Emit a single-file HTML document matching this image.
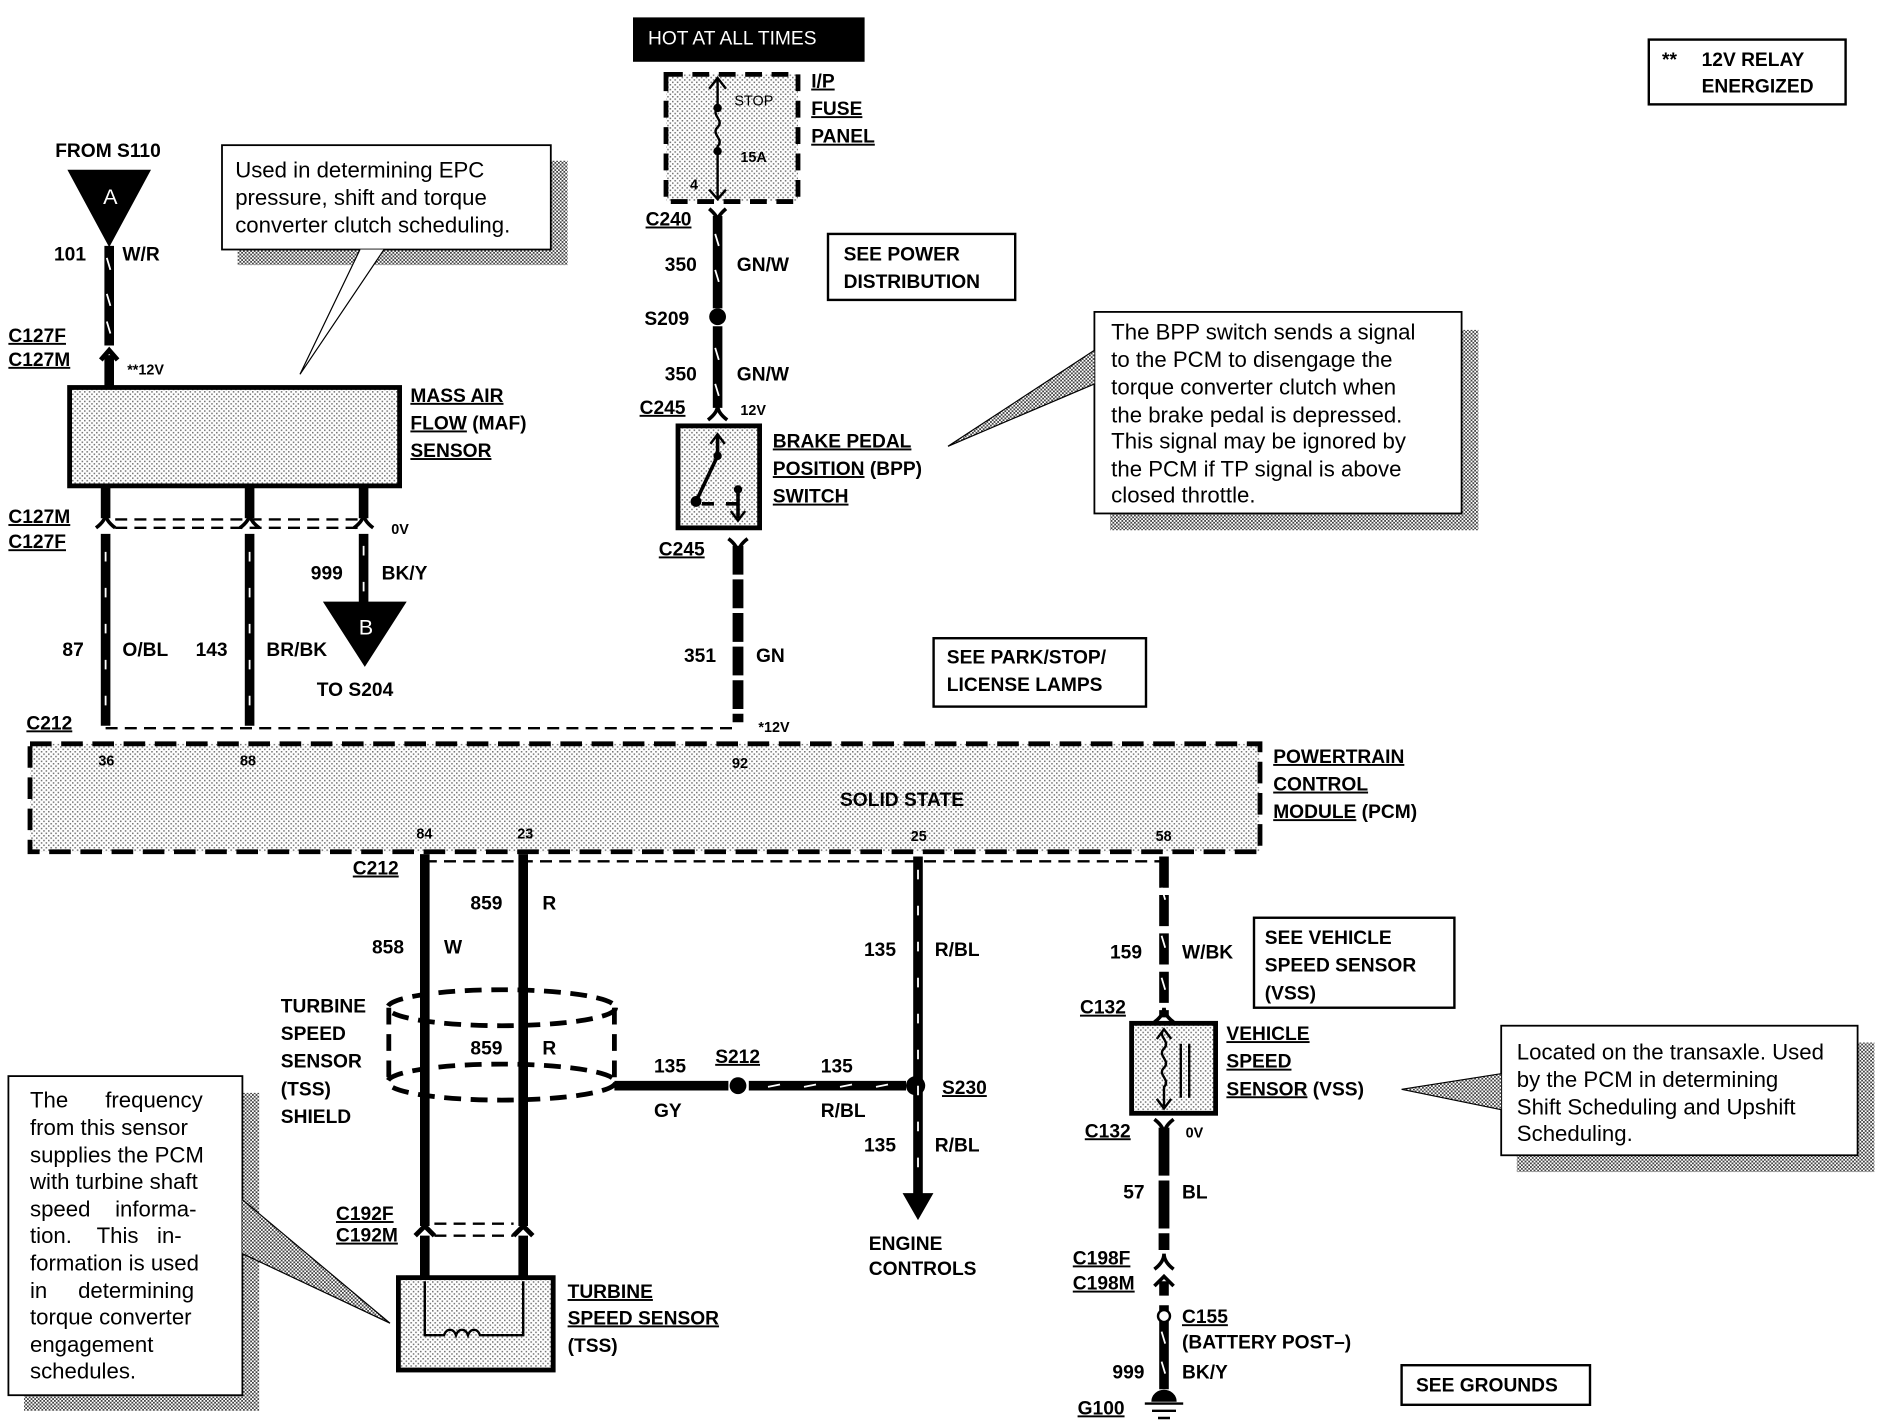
<!DOCTYPE html>
<html><head><meta charset="utf-8"><style>
html,body{margin:0;padding:0;background:#fff}
svg{display:block}
text{font-family:"Liberation Sans",Arial,sans-serif;font-weight:bold;font-size:16px;fill:#000}
.n{font-weight:normal;font-size:18.5px}
.s{font-size:12px}
.u{text-decoration:underline}
</style></head><body>
<svg width="1878" height="1424" viewBox="0 0 1565 1187" preserveAspectRatio="none" xmlns="http://www.w3.org/2000/svg">
<defs>
<pattern id="d" width="4" height="4" patternUnits="userSpaceOnUse"><rect width="4" height="4" fill="#fff"/><rect width="1.3" height="1.3" fill="#777"/><rect x="2" y="2" width="1.3" height="1.3" fill="#777"/></pattern>
<pattern id="h" width="3" height="3" patternUnits="userSpaceOnUse"><rect width="3" height="3" fill="#fff"/><rect width="1.5" height="1.5" fill="#444"/><rect x="1.5" y="1.5" width="1.5" height="1.5" fill="#444"/></pattern>
</defs>
<g stroke="#000" fill="none">
<rect x="528" y="15" width="192" height="36" fill="#000"/>
<rect x="555" y="62" width="110" height="106" fill="url(#d)" stroke-width="4" stroke-dasharray="14 8"/>
<path d="M598 66 V90 c-6 6 6 10 0 16 c-6 6 6 10 0 16 V165" stroke-width="2"/>
<path d="M591 74 L598 65 L605 74 M591 158 L598 166 L605 158" stroke-width="2"/>
<circle cx="598" cy="90" r="3" fill="#000"/><circle cx="598" cy="126" r="3" fill="#000"/>
<path d="M591 174 Q598 180 598 184 Q598 180 605 174" stroke-width="3"/>
<line x1="598" y1="180" x2="598" y2="257" stroke-width="8"/>
<line x1="598" y1="272" x2="598" y2="340" stroke-width="8"/>
<path d="M596 195 l3 10 M596 225 l3 10 M596 290 l3 10 M596 320 l3 10" stroke="#fff" stroke-width="1.5"/>
<circle cx="598" cy="264" r="7" fill="#000" stroke="none"/>
<path d="M590 350 Q598 344 598 338 Q598 344 606 350" stroke-width="3"/>
<rect x="565" y="355" width="68" height="85" fill="url(#d)" stroke-width="4"/>
<path d="M598 362 V380 L580 418 M585 420 H595 M605 420 h10 M615 405 V432" stroke-width="3"/>
<path d="M592 370 L598 362 L604 370 M609 426 L615 434 L621 426" stroke-width="2"/>
<circle cx="598" cy="380" r="3" fill="#000"/><circle cx="580" cy="418" r="4" fill="#000"/><circle cx="615" cy="408" r="3" fill="#000"/>
<path d="M607 449 Q615 455 615 462 Q615 455 623 449" stroke-width="3"/>
<line x1="615" y1="455" x2="615" y2="602" stroke-width="9" stroke-dasharray="24 4"/>
<rect x="690" y="195" width="156" height="55" stroke-width="2"/>
<rect x="778" y="532" width="177" height="57" stroke-width="2"/>
<rect x="1374" y="33" width="164" height="54" stroke-width="2"/>
<rect x="1045" y="765" width="167" height="75" stroke-width="2"/>
<rect x="1168" y="1138" width="157" height="33" stroke-width="2"/>
<rect x="198" y="134" width="275" height="87" fill="url(#h)" stroke="none"/>
<rect x="185" y="121" width="274" height="87" fill="#fff" stroke-width="1.5"/>
<path d="M300 208 L250 312 L320 208" fill="#fff" stroke-width="1"/>
<rect x="925" y="275" width="307" height="167" fill="url(#h)" stroke="none"/>
<rect x="912" y="260" width="306" height="168" fill="#fff" stroke-width="1.5"/>
<path d="M912 292 L790 372 L912 320" fill="url(#h)" stroke-width="1"/>
<rect x="20" y="911" width="196" height="265" fill="url(#h)" stroke="none"/>
<rect x="7" y="897" width="195" height="266" fill="#fff" stroke-width="1.5"/>
<path d="M202 1000 L325 1103 L202 1045" fill="url(#h)" stroke-width="1"/>
<rect x="1264" y="869" width="298" height="108" fill="url(#h)" stroke="none"/>
<rect x="1251" y="855" width="297" height="108" fill="#fff" stroke-width="1.5"/>
<path d="M1251 895 L1168 908 L1251 925" fill="url(#h)" stroke-width="1"/>
<polygon points="57,142 125,142 91,205" fill="#000"/>
<line x1="91" y1="205" x2="91" y2="288" stroke-width="8"/>
<path d="M89 215 l3 10 M89 245 l3 10 M89 268 l3 10" stroke="#fff" stroke-width="1.5"/>
<path d="M84 300 L91 292 L98 300" stroke-width="4"/>
<line x1="91" y1="296" x2="91" y2="323" stroke-width="8"/>
<rect x="58" y="323" width="275" height="82" fill="url(#d)" stroke-width="4"/>
<g stroke-width="8">
<line x1="88" y1="405" x2="88" y2="432"/><line x1="208" y1="405" x2="208" y2="432"/><line x1="303" y1="405" x2="303" y2="432"/>
<line x1="88" y1="445" x2="88" y2="605"/><line x1="208" y1="445" x2="208" y2="605"/><line x1="303" y1="445" x2="303" y2="505"/>
</g>
<path d="M88 460 v150 M208 460 v150 M303 455 v45" stroke="#fff" stroke-width="1.5" stroke-dasharray="8 22"/>
<path d="M80 440 Q88 434 88 428 Q88 434 96 440 M200 440 Q208 434 208 428 Q208 434 216 440 M295 440 Q303 434 303 428 Q303 434 311 440" stroke-width="3"/>
<line x1="96" y1="433" x2="300" y2="433" stroke-width="2" stroke-dasharray="10 6"/>
<line x1="96" y1="440" x2="300" y2="440" stroke-width="2" stroke-dasharray="10 6"/>
<polygon points="270,502 338,502 304,555" fill="#000"/>
<line x1="88" y1="607" x2="615" y2="607" stroke-width="2" stroke-dasharray="10 6"/>
<rect x="25" y="620" width="1025" height="90" fill="url(#d)" stroke-width="4" stroke-dasharray="18 8"/>
<line x1="354" y1="712" x2="354" y2="1022" stroke-width="8"/>
<line x1="436" y1="712" x2="436" y2="1022" stroke-width="8"/>
<line x1="354" y1="1030" x2="354" y2="1068" stroke-width="8"/>
<line x1="436" y1="1030" x2="436" y2="1068" stroke-width="8"/>
<path d="M346 1030 L354 1022 L362 1030 M428 1030 L436 1022 L444 1030" stroke-width="4"/>
<line x1="362" y1="1020" x2="428" y2="1020" stroke-width="2" stroke-dasharray="10 6"/>
<line x1="362" y1="1030" x2="428" y2="1030" stroke-width="2" stroke-dasharray="10 6"/>
<line x1="354" y1="718" x2="970" y2="718" stroke-width="2" stroke-dasharray="10 6"/>
<ellipse cx="418" cy="840" rx="95" ry="15" stroke-width="4" stroke-dasharray="14 8"/>
<ellipse cx="418" cy="902" rx="95" ry="15" stroke-width="4" stroke-dasharray="14 8"/>
<line x1="324" y1="840" x2="324" y2="902" stroke-width="4" stroke-dasharray="14 8"/>
<line x1="512" y1="840" x2="512" y2="905" stroke-width="4" stroke-dasharray="14 8"/>
<line x1="512" y1="905" x2="607" y2="905" stroke-width="8"/>
<circle cx="615" cy="905" r="7" fill="#000" stroke="none"/>
<line x1="624" y1="905" x2="755" y2="905" stroke-width="8"/>
<path d="M640 906 l10 -2 M670 906 l10 -2 M700 906 l10 -2 M730 906 l10 -2" stroke="#fff" stroke-width="1.5"/>
<circle cx="763" cy="905" r="8" fill="#000" stroke="none"/>
<line x1="765" y1="714" x2="765" y2="995" stroke-width="8"/>
<path d="M765 725 v270" stroke="#fff" stroke-width="1.5" stroke-dasharray="8 22"/>
<polygon points="753,995 777,995 765,1016" fill="#000"/>
<rect x="332" y="1065" width="129" height="77" fill="url(#d)" stroke-width="4"/>
<path d="M354 1068 V1113 H370 c2 -6 8 -6 10 0 c2 -6 8 -6 10 0 c2 -6 8 -6 10 0 H436 V1068" stroke-width="2"/>
<line x1="970" y1="714" x2="970" y2="848" stroke-width="8" stroke-dasharray="26 6"/>
<path d="M968 740 l3 10 M968 780 l3 10 M968 815 l3 10" stroke="#fff" stroke-width="1.5"/>
<path d="M962 852 Q970 846 970 840 Q970 846 978 852" stroke-width="3"/>
<rect x="943" y="853" width="70" height="75" fill="url(#d)" stroke-width="4"/>
<path d="M970 858 c-6 6 6 10 0 16 c-6 6 6 10 0 16 c-6 6 6 10 0 16 V922 M964 866 L970 858 L976 866 M964 916 L970 924 L976 916 M984 870 V915 M991 870 V915" stroke-width="2"/>
<path d="M962 933 Q970 939 970 946 Q970 939 978 933" stroke-width="3"/>
<line x1="970" y1="940" x2="970" y2="1042" stroke-width="9" stroke-dasharray="40 4"/>
<path d="M962 1058 Q970 1052 970 1045 Q970 1052 978 1058 M962 1072 L970 1064 L978 1072" stroke-width="3"/>
<line x1="970" y1="1068" x2="970" y2="1080" stroke-width="8"/>
<line x1="970" y1="1088" x2="970" y2="1158" stroke-width="8"/>
<circle cx="970" cy="1097" r="5" fill="#fff" stroke-width="2"/>
<path d="M968 1110 l3 10 M968 1135 l3 10" stroke="#fff" stroke-width="1.5"/>
<path d="M960 1168 a10 9 0 0 1 20 0 Z" fill="#000"/>
<path d="M954 1170 H986 M960 1176 H980 M965 1182 H975" stroke-width="2"/>
</g>
<text x="540" y="37" style="fill:#fff;font-weight:normal;font-size:16px">HOT AT ALL TIMES</text>
<text x="612" y="88" class="s" style="font-weight:normal">STOP</text>
<text x="617" y="135" class="s">15A</text>
<text x="575" y="158" class="s">4</text>
<text x="676" y="73" class="u">I/P</text><text x="676" y="96" class="u">FUSE</text><text x="676" y="119" class="u">PANEL</text>
<text x="538" y="188" class="u">C240</text>
<text x="554" y="226">350</text><text x="614" y="226">GN/W</text>
<text x="537" y="271">S209</text>
<text x="554" y="317">350</text><text x="614" y="317">GN/W</text>
<text x="533" y="345" class="u">C245</text><text x="617" y="346" class="s">12V</text>
<text x="644" y="373" class="u">BRAKE PEDAL</text>
<text x="644" y="396"><tspan class="u">POSITION</tspan> (BPP)</text>
<text x="644" y="419" class="u">SWITCH</text>
<text x="549" y="463" class="u">C245</text>
<text x="570" y="552">351</text><text x="630" y="552">GN</text>
<text x="632" y="610" class="s">*12V</text>
<text x="703" y="217">SEE POWER</text><text x="703" y="240">DISTRIBUTION</text>
<text x="789" y="553">SEE PARK/STOP/</text><text x="789" y="576">LICENSE LAMPS</text>
<text x="1385" y="55">**</text><text x="1418" y="55">12V RELAY</text><text x="1418" y="77">ENERGIZED</text>
<text class="n" x="926" y="283">The BPP switch sends a signal</text>
<text class="n" x="926" y="306">to the PCM to disengage the</text>
<text class="n" x="926" y="329">torque converter clutch when</text>
<text class="n" x="926" y="352">the brake pedal is depressed.</text>
<text class="n" x="926" y="374">This signal may be ignored by</text>
<text class="n" x="926" y="397">the PCM if TP signal is above</text>
<text class="n" x="926" y="419">closed throttle.</text>
<text class="n" x="196" y="148">Used in determining EPC</text>
<text class="n" x="196" y="171">pressure, shift and torque</text>
<text class="n" x="196" y="194">converter clutch scheduling.</text>
<text x="46" y="131">FROM S110</text>
<text x="86" y="170" style="fill:#fff;font-weight:normal;font-size:18px">A</text>
<text x="45" y="217">101</text><text x="102" y="217">W/R</text>
<text x="7" y="285" class="u">C127F</text><text x="7" y="305" class="u">C127M</text>
<text x="106" y="312" class="s">**12V</text>
<text x="342" y="335" class="u">MASS AIR</text>
<text x="342" y="358"><tspan class="u">FLOW</tspan> (MAF)</text>
<text x="342" y="381" class="u">SENSOR</text>
<text x="7" y="436" class="u">C127M</text><text x="7" y="457" class="u">C127F</text>
<text x="326" y="445" class="s">0V</text>
<text x="259" y="483">999</text><text x="318" y="483">BK/Y</text>
<text x="299" y="529" style="fill:#fff;font-weight:normal;font-size:18px">B</text>
<text x="52" y="547">87</text><text x="102" y="547">O/BL</text><text x="163" y="547">143</text><text x="222" y="547">BR/BK</text>
<text x="264" y="580">TO S204</text>
<text x="22" y="608" class="u">C212</text>
<text x="82" y="638" class="s">36</text><text x="200" y="638" class="s">88</text><text x="610" y="640" class="s">92</text>
<text x="347" y="699" class="s">84</text><text x="431" y="699" class="s">23</text><text x="759" y="701" class="s">25</text><text x="963" y="701" class="s">58</text>
<text x="700" y="672">SOLID STATE</text>
<text x="1061" y="636" class="u">POWERTRAIN</text>
<text x="1061" y="659" class="u">CONTROL</text>
<text x="1061" y="682"><tspan class="u">MODULE</tspan> (PCM)</text>
<text x="294" y="729" class="u">C212</text>
<text x="392" y="758">859</text><text x="452" y="758">R</text>
<text x="310" y="795">858</text><text x="370" y="795">W</text>
<text x="234" y="844">TURBINE</text><text x="234" y="867">SPEED</text><text x="234" y="890">SENSOR</text><text x="234" y="913">(TSS)</text><text x="234" y="936">SHIELD</text>
<text x="392" y="879">859</text><text x="452" y="879">R</text>
<text x="545" y="894">135</text><text x="596" y="886" class="u">S212</text><text x="545" y="931">GY</text>
<text x="684" y="894">135</text><text x="684" y="931">R/BL</text><text x="785" y="912" class="u">S230</text>
<text x="720" y="797">135</text><text x="779" y="797">R/BL</text>
<text x="720" y="960">135</text><text x="779" y="960">R/BL</text>
<text x="724" y="1042">ENGINE</text><text x="724" y="1063">CONTROLS</text>
<text x="280" y="1017" class="u">C192F</text><text x="280" y="1035" class="u">C192M</text>
<text x="473" y="1082" class="u">TURBINE</text>
<text x="473" y="1104" class="u">SPEED SENSOR</text>
<text x="473" y="1127">(TSS)</text>
<text class="n" x="25" y="923">The&#160;&#160;&#160;&#160;&#160;&#160;frequency</text>
<text class="n" x="25" y="946">from this sensor</text>
<text class="n" x="25" y="969">supplies the PCM</text>
<text class="n" x="25" y="991">with turbine shaft</text>
<text class="n" x="25" y="1014">speed&#160;&#160;&#160;&#160;informa-</text>
<text class="n" x="25" y="1036">tion.&#160;&#160;&#160;&#160;This&#160;&#160;&#160;in-</text>
<text class="n" x="25" y="1059">formation is used</text>
<text class="n" x="25" y="1082">in&#160;&#160;&#160;&#160;&#160;determining</text>
<text class="n" x="25" y="1104">torque converter</text>
<text class="n" x="25" y="1127">engagement</text>
<text class="n" x="25" y="1149">schedules.</text>
<text x="925" y="799">159</text><text x="985" y="799">W/BK</text>
<text x="1054" y="787">SEE VEHICLE</text><text x="1054" y="810">SPEED SENSOR</text><text x="1054" y="833">(VSS)</text>
<text x="900" y="845" class="u">C132</text>
<text x="1022" y="867" class="u">VEHICLE</text><text x="1022" y="890" class="u">SPEED</text>
<text x="1022" y="913"><tspan class="u">SENSOR</tspan> (VSS)</text>
<text x="904" y="948" class="u">C132</text><text x="988" y="948" class="s">0V</text>
<text x="936" y="999">57</text><text x="985" y="999">BL</text>
<text x="894" y="1054" class="u">C198F</text><text x="894" y="1075" class="u">C198M</text>
<text x="985" y="1103" class="u">C155</text><text x="985" y="1124">(BATTERY POST–)</text>
<text x="927" y="1149">999</text><text x="985" y="1149">BK/Y</text>
<text x="898" y="1179" class="u">G100</text>
<text x="1180" y="1160">SEE GROUNDS</text>
<text class="n" x="1264" y="883">Located on the transaxle. Used</text>
<text class="n" x="1264" y="906">by the PCM in determining</text>
<text class="n" x="1264" y="929">Shift Scheduling and Upshift</text>
<text class="n" x="1264" y="951">Scheduling.</text>
</svg>
</body></html>
